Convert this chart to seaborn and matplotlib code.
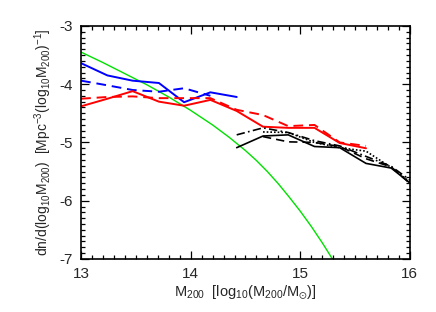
import numpy as np
import pandas as pd
import matplotlib
matplotlib.use("Agg")
import matplotlib.pyplot as plt
import seaborn as sns
from matplotlib.ticker import MultipleLocator

# bin centres
x_bins = [13.0, 13.24, 13.47, 13.71, 13.94, 14.18, 14.42, 14.66, 14.89, 15.13, 15.36, 15.6, 15.83, 16.07]

blue_solid = [-3.64, -3.85, -3.94, -3.98, -4.31, -4.14, -4.22]
blue_dash = [-3.94, -4.02, -4.10, -4.13, -4.07, -4.20]
red_solid = [-4.38, -4.25, -4.12, -4.30, -4.37, -4.27, -4.46, -4.73, -4.75, -4.75, -5.01, -5.10]
red_dash = [-4.25, -4.22, -4.21, -4.24, -4.24, -4.24, -4.44, -4.53, -4.72, -4.70, -5.00, -5.06]

# black curves start at the 7th bin
blk_solid = [-5.09, -4.89, -4.87, -5.07, -5.09, -5.36, -5.44, -5.80]
blk_dashdot = [-4.87, -4.75, -4.83, -4.97, -5.06, -5.24, -5.41, -5.74]
blk_dot = [np.nan, -4.82, -4.83, -5.00, -5.09, -5.15, -5.43, -5.78]
blk_dash = [np.nan, -4.90, -4.99, -5.00, -5.07, -5.28, -5.42, -5.82]

# analytic mass function (green)
green_x = [13.0, 13.2, 13.4, 13.6, 13.8, 14.0, 14.2, 14.35, 14.5, 14.6, 14.7, 14.8,
           14.9, 15.0, 15.1, 15.2, 15.3, 15.35]
green_y = [-3.45, -3.63, -3.82, -4.01, -4.22, -4.45, -4.70, -4.91, -5.14, -5.31, -5.50, -5.71,
           -5.94, -6.18, -6.44, -6.72, -7.02, -7.18]

sns.set_style("white")
plt.rcParams['font.family'] = ['Liberation Sans', 'DejaVu Sans']
plt.rcParams['mathtext.fontset'] = 'custom'
plt.rcParams['mathtext.rm'] = 'Liberation Sans'
plt.rcParams['mathtext.it'] = 'Liberation Sans'
plt.rcParams['mathtext.default'] = 'regular'
plt.rcParams['axes.unicode_minus'] = False
plt.rcParams['xtick.bottom'] = True
plt.rcParams['ytick.left'] = True
plt.rcParams['xtick.top'] = True
plt.rcParams['ytick.right'] = True
plt.rcParams['xtick.direction'] = 'in'
plt.rcParams['ytick.direction'] = 'in'

fig = plt.figure(figsize=(4.36, 3.12), dpi=100)
ax = fig.add_axes([0.186, 0.170, 0.754, 0.747])

def draw(xs, ys, color, ls, lw):
    df = pd.DataFrame({'x': xs[:len(ys)], 'y': ys}).dropna()
    sns.lineplot(data=df, x='x', y='y', ax=ax, color=color, linestyle=ls,
                 linewidth=lw, estimator=None, sort=False)

draw(green_x, green_y, '#00e000', '-', 1.0)

draw(x_bins, blue_solid, '#0000ff', '-', 1.4)
draw(x_bins, blue_dash, '#0000ff', (0, (5, 3)), 1.4)
draw(x_bins, red_solid, '#ff0000', '-', 1.4)
draw(x_bins, red_dash, '#ff0000', (0, (5, 3)), 1.4)

bx = x_bins[6:]
draw(bx, blk_solid, 'black', '-', 1.2)
draw(bx, blk_dashdot, 'black', (0, (5, 2, 1, 2)), 1.2)
draw(bx, blk_dot, 'black', (0, (1, 1.2)), 1.2)
draw(bx, blk_dash, 'black', (0, (5, 3)), 1.2)

ax.set_xlim(13, 16)
ax.set_ylim(-7, -3)
ax.xaxis.set_major_locator(MultipleLocator(1))
ax.xaxis.set_minor_locator(MultipleLocator(0.1))
ax.yaxis.set_major_locator(MultipleLocator(1))
ax.yaxis.set_minor_locator(MultipleLocator(0.1))
ax.tick_params(which='both', direction='in', bottom=True, left=True, top=True, right=True,
               color='black', width=0.9)
ax.tick_params(which='major', length=6, labelsize=11, pad=6)
ax.tick_params(which='minor', length=3)
for s in ax.spines.values():
    s.set_linewidth(1.2)
    s.set_color('black')

ax.set_xlabel(r'M$_{200}$  [log$_{10}$(M$_{200}$/M$_{\odot}$)]', fontsize=10.5, labelpad=2)
ax.set_ylabel(r'dn/d(log$_{10}$M$_{200}$)  [Mpc$^{-3}$(log$_{10}$M$_{200}$)$^{-1}$]',
              fontsize=10, labelpad=4)

fig.savefig('out.png', dpi=100)
